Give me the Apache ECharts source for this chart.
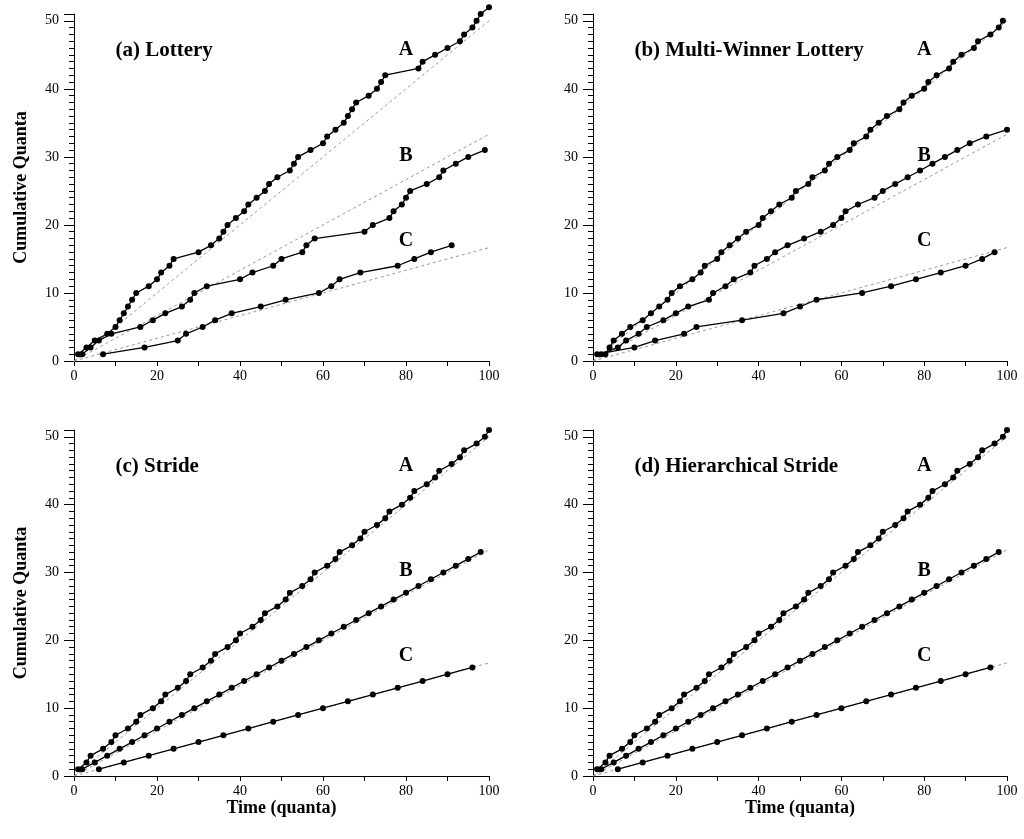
<!DOCTYPE html>
<html><head><meta charset="utf-8">
<script src="https://cdn.jsdelivr.net/npm/echarts@6/dist/echarts.min.js"></script>
<style>html,body{margin:0;padding:0;background:#fff}#c{width:1024px;height:839px}</style>
</head><body><div id="c"></div>
<script>
// [time (quanta), cumulative quanta]
const lotteryA = [[1,1],[3,2],[5,3],[8,4],[10,5],[11,6],[12,7],[13,8],[14,9],[15,10],[18,11],[20,12],[21,13],[23,14],[24,15],[30,16],[33,17],[35,18],[36,19],[37,20],[39,21],[41,22],[42,23],[44,24],[46,25],[47,26],[49,27],[52,28],[53,29],[54,30],[57,31],[60,32],[61,33],[63,34],[65,35],[66,36],[67,37],[68,38],[71,39],[73,40],[74,41],[75,42],[83,43],[84,44],[87,45],[90,46],[93,47],[94,48],[96,49],[97,50],[98,51],[100,52]];
const lotteryB = [[2,1],[4,2],[6,3],[9,4],[16,5],[19,6],[22,7],[26,8],[28,9],[29,10],[32,11],[40,12],[43,13],[48,14],[50,15],[55,16],[56,17],[58,18],[70,19],[72,20],[76,21],[77,22],[79,23],[80,24],[81,25],[85,26],[88,27],[89,28],[92,29],[95,30],[99,31]];
const lotteryC = [[7,1],[17,2],[25,3],[27,4],[31,5],[34,6],[38,7],[45,8],[51,9],[59,10],[62,11],[64,12],[69,13],[78,14],[82,15],[86,16],[91,17]];

const multiA = [[3,1],[4,2],[5,3],[7,4],[9,5],[12,6],[14,7],[16,8],[18,9],[19,10],[21,11],[24,12],[26,13],[27,14],[30,15],[31,16],[33,17],[35,18],[37,19],[40,20],[41,21],[43,22],[45,23],[48,24],[49,25],[52,26],[53,27],[56,28],[57,29],[59,30],[62,31],[63,32],[66,33],[67,34],[69,35],[71,36],[74,37],[75,38],[77,39],[80,40],[81,41],[83,42],[86,43],[87,44],[89,45],[92,46],[93,47],[96,48],[98,49],[99,50]];
const multiB = [[2,1],[6,2],[8,3],[11,4],[13,5],[17,6],[20,7],[23,8],[28,9],[29,10],[32,11],[34,12],[38,13],[39,14],[42,15],[44,16],[47,17],[51,18],[55,19],[58,20],[60,21],[61,22],[64,23],[68,24],[70,25],[73,26],[76,27],[79,28],[82,29],[85,30],[88,31],[91,32],[95,33],[100,34]];
const multiC = [[1,1],[10,2],[15,3],[22,4],[25,5],[36,6],[46,7],[50,8],[54,9],[65,10],[72,11],[78,12],[84,13],[90,14],[94,15],[97,16]];

const strideA = [[1,1],[3,2],[4,3],[7,4],[9,5],[10,6],[13,7],[15,8],[16,9],[19,10],[21,11],[22,12],[25,13],[27,14],[28,15],[31,16],[33,17],[34,18],[37,19],[39,20],[40,21],[43,22],[45,23],[46,24],[49,25],[51,26],[52,27],[55,28],[57,29],[58,30],[61,31],[63,32],[64,33],[67,34],[69,35],[70,36],[73,37],[75,38],[76,39],[79,40],[81,41],[82,42],[85,43],[87,44],[88,45],[91,46],[93,47],[94,48],[97,49],[99,50],[100,51]];
const strideB = [[2,1],[5,2],[8,3],[11,4],[14,5],[17,6],[20,7],[23,8],[26,9],[29,10],[32,11],[35,12],[38,13],[41,14],[44,15],[47,16],[50,17],[53,18],[56,19],[59,20],[62,21],[65,22],[68,23],[71,24],[74,25],[77,26],[80,27],[83,28],[86,29],[89,30],[92,31],[95,32],[98,33]];
const strideC = [[6,1],[12,2],[18,3],[24,4],[30,5],[36,6],[42,7],[48,8],[54,9],[60,10],[66,11],[72,12],[78,13],[84,14],[90,15],[96,16]];

const hierA = [[1,1],[3,2],[4,3],[7,4],[9,5],[10,6],[13,7],[15,8],[16,9],[19,10],[21,11],[22,12],[25,13],[27,14],[28,15],[31,16],[33,17],[34,18],[37,19],[39,20],[40,21],[43,22],[45,23],[46,24],[49,25],[51,26],[52,27],[55,28],[57,29],[58,30],[61,31],[63,32],[64,33],[67,34],[69,35],[70,36],[73,37],[75,38],[76,39],[79,40],[81,41],[82,42],[85,43],[87,44],[88,45],[91,46],[93,47],[94,48],[97,49],[99,50],[100,51]];
const hierB = [[2,1],[5,2],[8,3],[11,4],[14,5],[17,6],[20,7],[23,8],[26,9],[29,10],[32,11],[35,12],[38,13],[41,14],[44,15],[47,16],[50,17],[53,18],[56,19],[59,20],[62,21],[65,22],[68,23],[71,24],[74,25],[77,26],[80,27],[83,28],[86,29],[89,30],[92,31],[95,32],[98,33]];
const hierC = [[6,1],[12,2],[18,3],[24,4],[30,5],[36,6],[42,7],[48,8],[54,9],[60,10],[66,11],[72,12],[78,13],[84,14],[90,15],[96,16]];

// ideal allocation (3:2:1 tickets)
const idealA = [[0,0],[100,50]];
const idealB = [[0,0],[100,33.33]];
const idealC = [[0,0],[100,16.67]];

const panelTitles = ['(a) Lottery','(b) Multi-Winner Lottery','(c) Stride','(d) Hierarchical Stride'];
const clientNames = ['A','B','C'];
const panels = [[lotteryA,lotteryB,lotteryC],[multiA,multiB,multiC],[strideA,strideB,strideC],[hierA,hierB,hierC]];

const FONT = "'Liberation Serif','Times New Roman',serif";
const chart = echarts.init(document.getElementById('c'), null, {renderer:'canvas'});

const grids = [
  {left:74, top:14, width:415, height:347},
  {left:593, top:14, width:414, height:347},
  {left:74, top:430, width:415, height:346},
  {left:593, top:430, width:414, height:346}
];
const xAxes = [], yAxes = [], series = [];
for (let i=0;i<4;i++){
  xAxes.push({
    type:'value', gridIndex:i, min:0, max:100, interval:10,
    name: i>=2 ? 'Time (quanta)' : '', nameLocation:'middle', nameGap:17,
    nameTextStyle:{fontFamily:FONT, fontWeight:'bold', fontSize:18, color:'#000'},
    axisLine:{show:true, onZero:false, lineStyle:{color:'#000', width:1}},
    axisTick:{show:true, length:5, lineStyle:{color:'#000'}},
    axisLabel:{fontFamily:FONT, fontSize:14, color:'#000', margin:8,
      formatter:v => (v%20===0 ? String(v) : '')},
    splitLine:{show:false}
  });
  yAxes.push({
    type:'value', gridIndex:i, min:0, max:51, interval:10,
    name: (i%2===0) ? 'Cumulative Quanta' : '', nameLocation:'middle', nameGap:44,
    nameTextStyle:{fontFamily:FONT, fontWeight:'bold', fontSize:18, color:'#000'},
    axisLine:{show:true, onZero:false, lineStyle:{color:'#000', width:1}},
    axisTick:{show:true, length:10, lineStyle:{color:'#000'}},
    minorTick:{show:true, splitNumber:10, length:5, lineStyle:{color:'#000'}},
    axisLabel:{fontFamily:FONT, fontSize:14, color:'#000', margin:15, showMaxLabel:false},
    splitLine:{show:false}
  });
  [idealA, idealB, idealC].forEach(d => series.push({
    type:'line', xAxisIndex:i, yAxisIndex:i, data:d, symbol:'none', silent:true,
    lineStyle:{color:'#999', width:1, type:[3,3]}, clip:false, z:1
  }));
  panels[i].forEach(d => series.push({
    type:'line', xAxisIndex:i, yAxisIndex:i, data:d, symbol:'circle', symbolSize:6,
    showAllSymbol:true, clip:false, z:3,
    lineStyle:{color:'#000', width:1.3}, itemStyle:{color:'#000'}
  }));
}
chart.setOption({animation:false, backgroundColor:'#fff', grid:grids, xAxis:xAxes, yAxis:yAxes, series:series});

// text annotations placed in data coordinates
const titlePos = [10, 45.6];
const labelX = 80;
const labelY = [45.7, 30.2, 17.7];
const gfx = [];
for (let i=0;i<4;i++){
  const p = chart.convertToPixel({gridIndex:i}, titlePos);
  gfx.push({type:'text', x:p[0], y:p[1], style:{text:panelTitles[i], font:"bold 21px "+FONT, fill:'#000', textAlign:'left', textVerticalAlign:'middle'}});
  clientNames.forEach((n,k) => {
    const q = chart.convertToPixel({gridIndex:i}, [labelX, labelY[k]]);
    gfx.push({type:'text', x:q[0], y:q[1], style:{text:n, font:"bold 20px "+FONT, fill:'#000', textAlign:'center', textVerticalAlign:'middle'}});
  });
}
chart.setOption({graphic:gfx});
</script></body></html>
